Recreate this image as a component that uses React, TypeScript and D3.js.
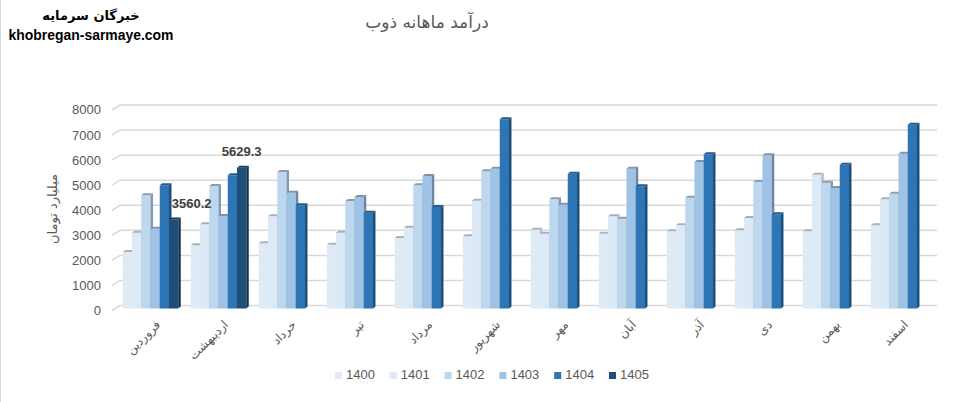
import React from "react";
import * as d3 from "d3";

const months = [
  "فروردین",
  "اردیبهشت",
  "خرداد",
  "تیر",
  "مرداد",
  "شهریور",
  "مهر",
  "آبان",
  "آذر",
  "دی",
  "بهمن",
  "اسفند",
];
const years = ["1400", "1401", "1402", "1403", "1404", "1405"];

const s1400 = [2260, 2530, 2610, 2550, 2820, 2890, 3150, 2990, 3090, 3130, 3090, 3330];
const s1401 = [3030, 3370, 3690, 3030, 3230, 4310, 2990, 3690, 3330, 3620, 5350, 4370];
const s1402 = [4530, 4900, 5460, 4300, 4930, 5490, 4370, 3590, 4430, 5060, 5030, 4590];
const s1403 = [3190, 3700, 4630, 4460, 5300, 5590, 4150, 5590, 5860, 6130, 4820, 6190];
const s1404 = [4930, 5330, 4130, 3830, 4060, 7570, 5390, 4890, 6170, 3770, 5750, 7350];
const s1405: (number | null)[] = [3560.2, 5629.3, null, null, null, null, null, null, null, null, null, null];

const yTicks = [0, 1000, 2000, 3000, 4000, 5000, 6000, 7000, 8000];

const seriesValues = [s1400, s1401, s1402, s1403, s1404, s1405];

// front, top, side faces
const palette = [
  { front: "#dfeaf7", top: "#a9b2bd", side: "#b7c2ce" },
  { front: "#dde9f6", top: "#a6afba", side: "#b3becb" },
  { front: "#bdd7ee", top: "#8d9bac", side: "#8698ae" },
  { front: "#9dc3e6", top: "#7d93ab", side: "#6e86a3" },
  { front: "#2e75b6", top: "#22588a", side: "#1f4e79" },
  { front: "#1f4e79", top: "#163a5b", side: "#14334f" },
];

const W = 971;
const H = 402;
const depthX = 2.5;
const depthY = 2;
const wallX = 8;
const wallY = 5;
const labelDx = [18, 0];

const grey = "#595959";
const numFont = "'Liberation Sans', Arial, sans-serif";
const faFont = "'DejaVu Sans', sans-serif";

export default function App() {
  const x = d3
    .scaleBand<string>()
    .domain(months)
    .range([116.5, 932.5])
    .paddingInner(0.184)
    .paddingOuter(0.092);
  const xs = d3.scaleBand<string>().domain(years).range([0, x.bandwidth()]);

  // front edge of the floor / axis labels
  const yFront = d3.scaleLinear().domain([0, 8000]).range([310.5, 110]);
  // bars sit slightly behind the front edge
  const yBar = d3.scaleLinear().domain([0, 8000]).range([308.5, 108.5]);

  const bw = xs.bandwidth();

  return (
    <svg
      width={W}
      height={H}
      viewBox={`0 0 ${W} ${H}`}
      style={{ position: "fixed", left: 0, top: 0, background: "#ffffff" }}
    >
      <rect x={0} y={0} width={W} height={H} fill="#ffffff" />
      <line x1={0.5} x2={0.5} y1={0} y2={H} stroke="#d9d9d9" />

      {/* brand */}
      <text
        x={91}
        y={20}
        textAnchor="middle"
        fontFamily={faFont}
        fontWeight="bold"
        fontSize={13}
        fill="#000"
      >
        خبرگان سرمایه
      </text>
      <text
        x={91}
        y={40}
        textAnchor="middle"
        fontFamily={numFont}
        fontWeight="bold"
        fontSize={15}
        fill="#000"
        textLength={165}
        lengthAdjust="spacingAndGlyphs"
      >
        khobregan-sarmaye.com
      </text>

      {/* title */}
      <text
        x={427}
        y={28}
        textAnchor="middle"
        fontFamily={faFont}
        fontSize={17}
        fill={grey}
      >
        درآمد ماهانه ذوب
      </text>

      {/* gridlines: side wall + back wall */}
      {yTicks.map((t) => (
        <g key={t}>
          <polyline
            points={`112,${yFront(t)} ${112 + wallX},${yFront(t) - wallY} 937,${yFront(t) - wallY}`}
            fill="none"
            stroke="#d9d9d9"
            strokeWidth={1.5}
          />
          <text
            x={101}
            y={yFront(t) + 1}
            textAnchor="end"
            dominantBaseline="middle"
            fontFamily={numFont}
            fontSize={13}
            fill={grey}
          >
            {t}
          </text>
        </g>
      ))}

      {/* y title */}
      <text
        transform="translate(57,209) rotate(-90)"
        textAnchor="middle"
        fontFamily={faFont}
        fontSize={13}
        fill={grey}
      >
        میلیارد تومان
      </text>

      {/* bars */}
      {months.map((m, mi) => (
        <g key={m}>
          {years.map((yr, si) => {
            const v = seriesValues[si][mi];
            if (v == null) return null;
            const x0 = (x(m) ?? 0) + (xs(yr) ?? 0);
            const yt = yBar(v);
            const yb = yBar(0);
            const c = palette[si];
            return (
              <g key={yr}>
                <rect x={x0} y={yt} width={bw} height={yb - yt} fill={c.front} />
                <polygon
                  points={`${x0},${yt} ${x0 + depthX},${yt - depthY} ${x0 + bw + depthX},${yt - depthY} ${x0 + bw},${yt}`}
                  fill={c.top}
                />
                <polygon
                  points={`${x0 + bw},${yt} ${x0 + bw + depthX},${yt - depthY} ${x0 + bw + depthX},${yb - depthY} ${x0 + bw},${yb}`}
                  fill={c.side}
                />
              </g>
            );
          })}
        </g>
      ))}

      {/* data labels for 1405 */}
      {s1405.map((v, mi) => {
        if (v == null) return null;
        const cx = (x(months[mi]) ?? 0) + (xs("1405") ?? 0) + bw / 2;
        return (
          <text
            key={mi}
            x={cx + (labelDx[mi] ?? 0)}
            y={yBar(v) - 11.5}
            textAnchor="middle"
            fontFamily={numFont}
            fontWeight="bold"
            fontSize={13}
            fill="#404040"
          >
            {v.toFixed(1)}
          </text>
        );
      })}

      {/* month labels */}
      {months.map((m) => {
        const cx = (x(m) ?? 0) + x.bandwidth() / 2 + 8;
        return (
          <text
            key={m}
            transform={`translate(${cx},323) rotate(-45)`}
            textAnchor="end"
            dominantBaseline="middle"
            fontFamily={faFont}
            fontSize={12}
            fill={grey}
          >
            {m}
          </text>
        );
      })}

      {/* legend */}
      {years.map((yr, i) => (
        <g key={yr} transform={`translate(${335 + i * 54.8},376)`}>
          <rect x={0} y={-4} width={7} height={7} fill={palette[i].front} />
          <text
            x={11}
            y={0}
            dominantBaseline="middle"
            fontFamily={numFont}
            fontSize={13}
            fill={grey}
          >
            {yr}
          </text>
        </g>
      ))}
    </svg>
  );
}
